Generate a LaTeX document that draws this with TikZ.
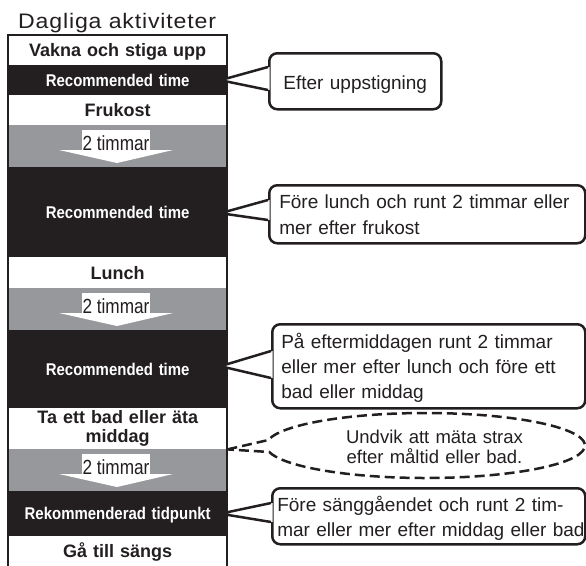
\documentclass[tikz,border=0pt]{standalone}
\usepackage{fontspec}
\setmainfont{Liberation Sans}
\newfontfamily\titlefont[FakeStretch=1.1,LetterSpace=4]{Liberation Sans}
\newfontfamily\narrowfont[FakeStretch=0.84]{Liberation Sans}
\newfontfamily\barfont[FakeStretch=0.88]{Liberation Sans}
\usetikzlibrary{calc}
\definecolor{ink}{HTML}{231F20}
\definecolor{barblack}{HTML}{231F20}
\definecolor{bargrey}{HTML}{97989B}
\begin{document}
\begin{tikzpicture}[x=1pt,y=-1pt,
  rowbase/.style={anchor=north west, inner sep=0pt, minimum width=219pt, text width=219pt, align=center, text depth=0pt},
  whiterow/.style={rowbase, fill=white, text=ink, font=\bfseries\fontsize{18}{19.5}\selectfont, text height=12.9pt},
  blackrow/.style={rowbase, fill=barblack, text=white, font=\barfont\bfseries\fontsize{17}{19}\selectfont, text height=12.2pt},
  greyrow/.style={rowbase, fill=bargrey},
  tlabel/.style={anchor=north, fill=white, inner xsep=0.5pt, inner ysep=0pt, text height=20pt, text depth=2pt, text=ink, font=\narrowfont\fontsize{20.5}{22}\selectfont},
  headarrow/.style={fill=white},
  frame/.style={draw=ink, line width=2pt, line join=miter},
  callout/.style={draw=ink, line width=2.5pt, fill=white, rounded corners=8pt, anchor=north west, inner ysep=0pt, align=left, text=ink, font=\fontsize{19}{25}\selectfont},
  tail/.style={draw=ink, line width=2.5pt, line join=miter},
  tailfill/.style={fill=white},
  dashline/.style={draw=ink, line width=2.5pt, dash pattern=on 10pt off 5pt},
  notetext/.style={anchor=north, inner sep=0pt, text width=200pt, align=center, text height=15pt, text depth=25pt, text=ink, font=\fontsize{18.5}{20}\selectfont}
]
\useasboundingbox (0,0) rectangle (586,565);

% column rows
\node[whiterow, minimum height=30pt] (r1) at (8,35) {Vakna och stiga upp};
\node[blackrow, minimum height=30pt] (r2) at (8,65) {Recommended time};
\node[whiterow, minimum height=30pt] (r3) at (8,95) {Frukost};
\node[greyrow, minimum height=42pt] (g1) at (8,125) {};
\node[blackrow, minimum height=90pt] (r5) at (8,167) {Recommended time};
\node[whiterow, minimum height=31pt] (r6) at (8,257) {Lunch};
\node[greyrow, minimum height=42pt] (g2) at (8,288) {};
\node[blackrow, minimum height=78pt] (r8) at (8,330) {Recommended time};
\node[whiterow, minimum height=41pt, text height=13pt, text depth=23.5pt] (r9) at (8,408) {Ta ett bad eller äta\\middag};
\node[greyrow, minimum height=42pt] (g3) at (8,449) {};
\node[blackrow, minimum height=45pt] (r11) at (8,491) {Rekommenderad tidpunkt};
\node[whiterow, minimum height=30pt] (r12) at (8,536) {Gå till sängs};

% arrows in grey rows
\foreach \g in {g1,g2,g3}{
  \fill[headarrow] ($(\g.north west)+(51,25)$) -- ($(\g.north west)+(165,25)$) -- ($(\g.north west)+(109,38)$) -- cycle;
  \node[tlabel] (lab\g) at ($(\g.north west)+(108,5)$) {2 timmar};
}

% frame
\draw[frame] (r12.south west) -- (r1.north west) -- (r1.north east) -- (r12.south east);

% callouts
\node[callout, align=center, inner xsep=0pt, text width=172pt, text height=36pt, text depth=20pt] (c1) at (268,52) {Efter uppstigning};
\node[callout, inner xsep=10pt, text width=296pt, text height=23pt, text depth=35pt, font=\fontsize{19}{26}\selectfont] (c2) at (268,184) {Före lunch och runt 2 timmar eller\\mer efter frukost};
\node[callout, inner xsep=9pt, text width=295pt, text height=24pt, text depth=60pt] (c3) at (271,323) {På eftermiddagen runt 2 timmar\\eller mer efter lunch och före ett\\bad eller middag};
\node[callout, inner xsep=5pt, text width=303pt, text height=23pt, text depth=33pt] (c4) at (271,487) {\mbox{Före sänggåendet och runt 2 tim-}\\\mbox{mar eller mer efter middag eller bad}};

% tails
\coordinate (t1) at ($(r2.east)+(-7,0)$);
\coordinate (t2) at ($(r5.east)+(-7,1)$);
\coordinate (t3) at ($(r8.east)+(-7,-3)$);
\coordinate (t4) at ($(r11.east)+(-7,0)$);
\fill[tailfill] ($(c1.north west)+(1.6,15)$) -- (t1) -- ($(c1.north west)+(1.6,38)$) -- cycle;
\draw[tail] ($(c1.north west)+(0,15)$) -- (t1) -- ($(c1.north west)+(0,38)$);
\fill[tailfill] ($(c2.north west)+(1.6,16)$) -- (t2) -- ($(c2.north west)+(1.6,36)$) -- cycle;
\draw[tail] ($(c2.north west)+(0,16)$) -- (t2) -- ($(c2.north west)+(0,36)$);
\fill[tailfill] ($(c3.north west)+(1.6,28)$) -- (t3) -- ($(c3.north west)+(1.6,55)$) -- cycle;
\draw[tail] ($(c3.north west)+(0,28)$) -- (t3) -- ($(c3.north west)+(0,55)$);
\fill[tailfill] ($(c4.north west)+(1.6,16)$) -- (t4) -- ($(c4.north west)+(1.6,35)$) -- cycle;
\draw[tail] ($(c4.north west)+(0,16)$) -- (t4) -- ($(c4.north west)+(0,35)$);

% dashed note
\coordinate (et) at (r9.south east);
\coordinate (ec) at (425.5,445.5);
\draw[dashline] (et) -- ($(ec)+(170.3:159.5pt and 32.5pt)$) arc[start angle=170.3, end angle=-168.5, x radius=159.5pt, y radius=32.5pt] -- (et);
\node[notetext] (note) at (434.5,428) {Undvik att mäta strax\\efter måltid eller bad.};

% title
\node[anchor=base west, inner sep=0pt, text=ink, font=\titlefont\fontsize{21}{24}\selectfont] (title) at (18,28) {Dagliga aktiviteter};
\end{tikzpicture}
\end{document}
